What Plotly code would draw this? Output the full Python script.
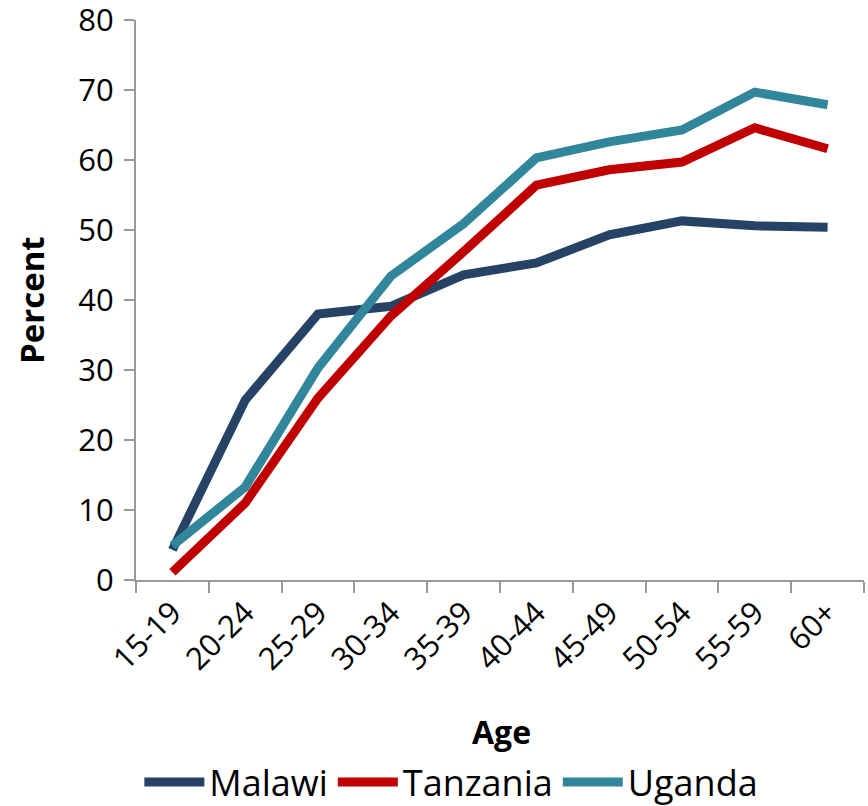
"""
Share by age group: Malawi, Tanzania, Uganda
"""

import plotly.graph_objects as go


age_groups = ["15-19", "20-24", "25-29", "30-34", "35-39",
              "40-44", "45-49", "50-54", "55-59", "60+"]
malawi = [4.3, 25.7, 38.0, 39.1, 43.6, 45.3, 49.3, 51.3, 50.6, 50.4]
tanzania = [1.1, 11.0, 26.0, 37.7, 46.9, 56.4, 58.6, 59.7, 64.6, 61.6]
uganda = [4.9, 13.3, 30.3, 43.4, 50.9, 60.3, 62.6, 64.3, 69.7, 67.9]

series = [
    ("Malawi", malawi, "#264365"),
    ("Tanzania", tanzania, "#C00000"),
    ("Uganda", uganda, "#31869B"),
]

FONT = "Open Sans"
W, H = 868, 806
L, T, R, B = 136, 20, 4, 226
PW, PH = W - L - R, H - T - B

fig = go.Figure()

for name, vals, color in series:
    fig.add_trace(
        go.Scatter(
            x=age_groups,
            y=vals,
            mode="lines",
            name=name,
            line=dict(color=color, width=9),
        )
    )

fig.update_layout(
    width=W,
    height=H,
    font=dict(family=FONT, size=30, color="black"),
    plot_bgcolor="white",
    paper_bgcolor="white",
    margin=dict(l=L, r=R, t=T, b=B),
    showlegend=True,
    legend=dict(
        orientation="h",
        xref="container",
        yref="container",
        x=0.52,
        xanchor="center",
        y=1 - 782 / H,
        yanchor="middle",
        font=dict(size=36),
        itemwidth=60,
    ),
    annotations=[
        dict(
            text="<b>Percent</b>", x=(31 - L) / PW, y=(H - B - 300) / PH,
            xref="paper", yref="paper", showarrow=False, textangle=-90,
            xanchor="center", yanchor="middle",
            font=dict(size=33),
        ),
        dict(
            text="<b>Age</b>", x=(501 - L) / PW, y=(H - B - 731) / PH,
            xref="paper", yref="paper", showarrow=False,
            xanchor="center", yanchor="middle",
            font=dict(size=32),
        ),
    ],
)

fig.update_yaxes(
    range=[0, 80],
    dtick=10,
    automargin=False,
    showgrid=False,
    zeroline=False,
    showline=True,
    linecolor="#999999",
    linewidth=2,
    ticks="outside",
    ticklen=10,
    tickcolor="#999999",
    tickwidth=2,
    ticklabelstandoff=4,
    ticklabeloverflow="allow",
    tickfont=dict(family=FONT, size=31, color="black"),
)

fig.update_xaxes(
    automargin=False,
    showgrid=False,
    showline=True,
    linecolor="#999999",
    linewidth=2,
    ticks="outside",
    tickson="boundaries",
    ticklen=11,
    tickcolor="#999999",
    tickwidth=2,
    tickangle=-45,
    range=[-0.5, 9.5],
    tickfont=dict(family=FONT, size=31, color="black"),
)

fig.write_html(
    "out.html",
    config={"displayModeBar": False},
    post_script="document.body.style.margin = '0';",
)
